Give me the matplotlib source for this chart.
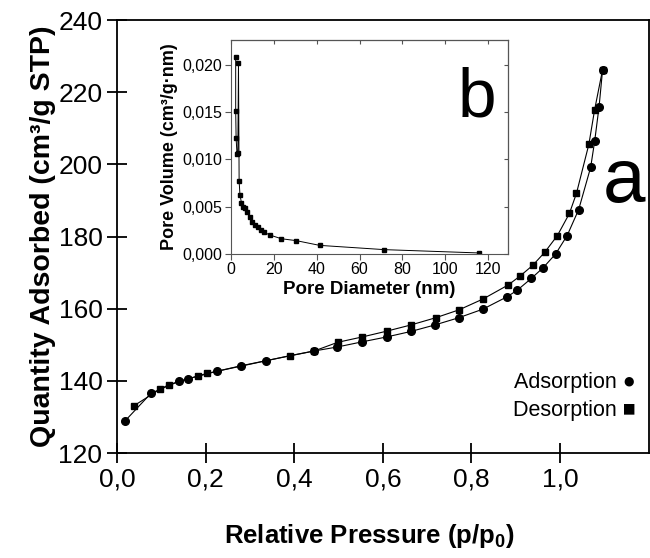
import numpy as np
import matplotlib
matplotlib.use("Agg")
import matplotlib.pyplot as plt
from matplotlib.ticker import FuncFormatter

plt.rcParams['font.family'] = ['Liberation Sans', 'DejaVu Sans']
plt.rcParams['mathtext.fontset'] = 'custom'
plt.rcParams['mathtext.rm'] = 'Liberation Sans'
plt.rcParams['mathtext.bf'] = 'Liberation Sans:bold'

# isotherm (a)
ads_p = [0.018, 0.077, 0.140, 0.161, 0.226, 0.280, 0.336, 0.445, 0.497, 0.552,
         0.609, 0.663, 0.717, 0.771, 0.826, 0.880, 0.903, 0.935, 0.962, 0.990,
         1.016, 1.042, 1.069, 1.078, 1.088, 1.096]
ads_q = [128.9, 136.6, 139.9, 140.6, 142.7, 144.2, 145.6, 148.3, 149.4, 150.8,
         152.2, 153.7, 155.5, 157.5, 159.9, 163.3, 165.1, 168.4, 171.4, 175.2,
         180.3, 187.5, 199.2, 206.4, 216.0, 226.3]
des_p = [0.038, 0.097, 0.118, 0.183, 0.204, 0.390, 0.445, 0.498, 0.554, 0.609,
         0.663, 0.719, 0.772, 0.826, 0.883, 0.910, 0.938, 0.965, 0.994, 1.021,
         1.037, 1.065, 1.078, 1.096]
des_q = [133.1, 137.7, 139.0, 141.4, 142.1, 147.0, 148.3, 150.7, 152.2, 153.8,
         155.5, 157.5, 159.7, 162.7, 166.6, 169.1, 172.0, 175.6, 180.3, 186.4,
         192.0, 205.6, 215.2, 226.3]

# pore size distribution (b)
pore_d = [2.3, 2.3, 2.5, 2.9, 3.3, 3.6, 3.9, 4.3, 5.0, 5.7, 6.5, 7.6, 8.8, 9.9,
          11.2, 12.6, 14.0, 15.5, 18.1, 23.6, 30.5, 41.4, 71.5, 115.5]
pore_v = [0.0208, 0.0151, 0.0122, 0.0106, 0.0107, 0.0202, 0.0077, 0.0062,
          0.0054, 0.0050, 0.0048, 0.0044, 0.0039, 0.0034, 0.0031, 0.0028,
          0.0025, 0.0023, 0.0020, 0.0016, 0.0014, 0.0009, 0.00045, 0.0001]

comma = lambda nd: FuncFormatter(lambda v, pos: f"{v:.{nd}f}".replace('.', ','))

fig = plt.figure(figsize=(6.5, 5.58), dpi=100)
ax = fig.add_axes([0.18, 0.188, 0.818, 0.776])
ax.plot(ads_p, ads_q, '-o', color='black', lw=0.8, ms=5.5)
ax.plot(des_p, des_q, '-s', color='black', lw=0.8, ms=5)
ax.set_xlim(0, 1.2)
ax.set_ylim(120, 240)
ax.set_xticks([0, 0.2, 0.4, 0.6, 0.8, 1.0])
ax.set_yticks(np.arange(120, 241, 20))
ax.xaxis.set_major_formatter(comma(1))
ax.tick_params(direction='inout', length=15, width=1.3, labelsize=19, pad=3)
for s in ax.spines.values():
    s.set_linewidth(1.3)
ax.set_xlabel(r'Relative Pressure (p/p$_\mathbf{0}$)', fontsize=18.5,
              fontweight='bold')
ax.xaxis.set_label_coords(0.475, -0.16)
ax.set_ylabel('Quantity Adsorbed (cm³/g STP)', fontsize=20.5,
              fontweight='bold', labelpad=2)
ax.text(0.994, 0.626, 'a', transform=ax.transAxes, fontsize=55, ha='right', va='center')
ax.text(0.975, 0.162, 'Adsorption \u25cf', transform=ax.transAxes, fontsize=15.5,
        ha='right', va='center')
ax.text(0.975, 0.099, 'Desorption \u25a0', transform=ax.transAxes, fontsize=15.5,
        ha='right', va='center')

ins = fig.add_axes([0.355, 0.545, 0.426, 0.3835])
ins.plot(pore_d, pore_v, '-s', color='black', lw=0.7, ms=2.5)
ins.set_xlim(0, 129)
ins.set_ylim(0, 0.0226)
ins.set_xticks(np.arange(0, 121, 20))
ins.set_yticks(np.arange(0, 0.0201, 0.005))
ins.yaxis.set_major_formatter(comma(3))
ins.tick_params(direction='out', length=4, labelsize=11.5, pad=2, color='#555555')
sec_top = ins.secondary_xaxis('top')
sec_top.set_xticks(np.arange(0, 121, 20))
sec_top.tick_params(direction='in', length=3, labeltop=False, color='#555555')
sec_r = ins.secondary_yaxis('right')
sec_r.set_yticks(np.arange(0, 0.0201, 0.005))
sec_r.tick_params(direction='in', length=3, labelright=False, color='#555555')
for s in ins.spines.values():
    s.set_linewidth(0.8)
    s.set_color('#555555')
ins.set_xlabel('Pore Diameter (nm)', fontsize=13.5, fontweight='bold', labelpad=3)
ins.set_ylabel('Pore Volume (cm³/g·nm)', fontsize=13, fontweight='bold', labelpad=3)
ins.text(0.888, 0.724, 'b', transform=ins.transAxes, fontsize=50, ha='center', va='center')

fig.savefig('out.png', dpi=100)
